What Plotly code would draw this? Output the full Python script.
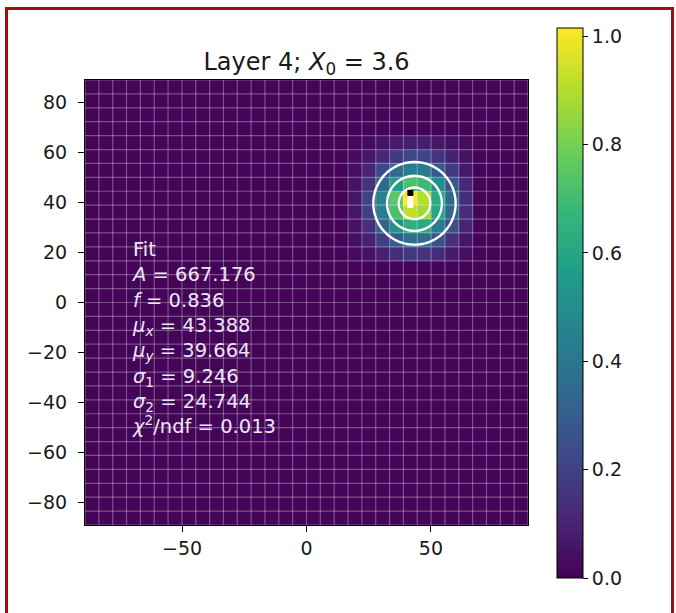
import numpy as np
import plotly.graph_objects as go

# ---------------- data ----------------
N_CELLS = 32
AXIS_EDGE = 89.0
BACKGROUND_LEVEL = 0.012

# normalised cell values around the shower core (columns 19..27, rows 19..27, bottom row first)
BLOCK_FIRST_COL = 19
BLOCK_FIRST_ROW = 19
core_rows = [
    [0.03, 0.05, 0.09, 0.13, 0.16, 0.15, 0.12, 0.07, 0.04],
    [0.04, 0.09, 0.19, 0.30, 0.37, 0.35, 0.26, 0.14, 0.06],
    [0.05, 0.14, 0.32, 0.52, 0.64, 0.61, 0.44, 0.25, 0.10],
    [0.06, 0.19, 0.43, 0.72, 0.92, 0.87, 0.60, 0.33, 0.13],
    [0.06, 0.20, 0.45, 0.75, 1.015, 0.90, 0.62, 0.34, 0.13],
    [0.05, 0.15, 0.35, 0.56, 0.72, 0.69, 0.50, 0.28, 0.11],
    [0.04, 0.10, 0.22, 0.35, 0.44, 0.42, 0.30, 0.17, 0.07],
    [0.03, 0.06, 0.11, 0.17, 0.22, 0.21, 0.15, 0.09, 0.05],
    [0.02, 0.03, 0.05, 0.07, 0.08, 0.08, 0.06, 0.04, 0.03],
]

# fit parameters (as printed)
FIT_A = 667.176
FIT_F = 0.836
FIT_MU_X = 43.388
FIT_MU_Y = 39.664
FIT_SIGMA1 = 9.246
FIT_SIGMA2 = 24.744
FIT_CHI2_NDF = 0.013
CONTOUR_LEVELS = [0.30, 0.56, 0.82]

LAYER = 4
X0 = 3.6

x_ticks = [-50, 0, 50]
y_ticks = [-80, -60, -40, -20, 0, 20, 40, 60, 80]
cbar_ticks = [0.0, 0.2, 0.4, 0.6, 0.8, 1.0]

# ---------------- build ----------------
edges = np.linspace(-AXIS_EDGE, AXIS_EDGE, N_CELLS + 1)
centers = 0.5 * (edges[:-1] + edges[1:])
z = np.full((N_CELLS, N_CELLS), BACKGROUND_LEVEL)
core = np.array(core_rows)
z[BLOCK_FIRST_ROW:BLOCK_FIRST_ROW + core.shape[0],
  BLOCK_FIRST_COL:BLOCK_FIRST_COL + core.shape[1]] = core

# figure pixel geometry
W, H = 676, 613
L, R, T, B = 85, 676 - 528, 80, 613 - 525
PW, PH = W - L - R, H - T - B


def px_x(p):
    return (p - L) / PW


def px_y(p):
    return (H - B - p) / PH


FONT = "DejaVu Sans"
TXT = "#1a1a1a"

fig = go.Figure()

fig.add_trace(go.Heatmap(
    x=centers, y=centers, z=z,
    colorscale="Viridis", zmin=0, zmax=float(z.max()),
    colorbar=dict(
        thickness=26, thicknessmode="pixels",
        len=550, lenmode="pixels",
        x=px_x(557), xanchor="left",
        y=px_y(28), yanchor="top",
        xpad=0, ypad=0,
        outlinecolor="black", outlinewidth=1,
        ticks="outside", ticklen=5, tickcolor="black", tickwidth=1,
        tickvals=cbar_ticks, tickformat=".1f",
        tickfont=dict(family=FONT, size=19, color=TXT),
    ),
    hoverinfo="skip",
))

# cell grid lines
gx, gy = [], []
for e in edges:
    gx += [e, e, None]
    gy += [-AXIS_EDGE, AXIS_EDGE, None]
    gx += [-AXIS_EDGE, AXIS_EDGE, None]
    gy += [e, e, None]
fig.add_trace(go.Scatter(x=gx, y=gy, mode="lines",
                         line=dict(color="rgba(255,255,255,0.3)", width=1.2),
                         hoverinfo="skip", showlegend=False))

# fit contours
fine = np.linspace(-AXIS_EDGE, AXIS_EDGE, 301)
FX, FY = np.meshgrid(fine, fine)
r2 = (FX - FIT_MU_X) ** 2 + (FY - FIT_MU_Y) ** 2
fit_norm = FIT_F * np.exp(-r2 / (2 * FIT_SIGMA1 ** 2)) + (1 - FIT_F) * np.exp(-r2 / (2 * FIT_SIGMA2 ** 2))
fig.add_trace(go.Contour(
    x=fine, y=fine, z=fit_norm,
    contours=dict(start=CONTOUR_LEVELS[0], end=CONTOUR_LEVELS[-1],
                  size=CONTOUR_LEVELS[1] - CONTOUR_LEVELS[0], coloring="none"),
    line=dict(color="white", width=2.4),
    showscale=False, hoverinfo="skip",
))

# peak-cell marker
iy, ix = np.unravel_index(np.argmax(z), z.shape)
cell = edges[1] - edges[0]
fig.add_trace(go.Scatter(x=[centers[ix]], y=[centers[iy] - 0.2 * cell], mode="markers",
                         marker=dict(symbol="line-ns", size=10, line=dict(color="white", width=6)),
                         hoverinfo="skip", showlegend=False))
fig.add_trace(go.Scatter(x=[centers[ix]], y=[centers[iy] + 0.38 * cell], mode="markers",
                         marker=dict(symbol="square", size=6, color="black", line=dict(width=0)),
                         hoverinfo="skip", showlegend=False))

# fit text
fit_text = "<br>".join([
    "Fit",
    f"<i>A</i> = {FIT_A:.3f}",
    f"<i>f</i> = {FIT_F:.3f}",
    f"<i>μ</i><sub><i>x</i></sub> = {FIT_MU_X:.3f}",
    f"<i>μ</i><sub><i>y</i></sub> = {FIT_MU_Y:.3f}",
    f"<i>σ</i><sub>1</sub> = {FIT_SIGMA1:.3f}",
    f"<i>σ</i><sub>2</sub> = {FIT_SIGMA2:.3f}",
    f"<i>χ</i><sup>2</sup>/ndf = {FIT_CHI2_NDF:.3f}",
])
fig.add_annotation(text=fit_text, xref="paper", yref="paper",
                   x=px_x(129), y=px_y(236),
                   xanchor="left", yanchor="top", align="left", showarrow=False,
                   font=dict(family=FONT, size=19.5, color="#efe6f5"))

# outer dark-red frame
fig.add_shape(type="rect", xref="paper", yref="paper",
              x0=px_x(6.5), x1=px_x(672.5), y0=px_y(640), y1=px_y(8.5),
              line=dict(color="#a30d0d", width=3), fillcolor="rgba(0,0,0,0)", layer="above")

axis_common = dict(
    showgrid=False, zeroline=False, showline=True, linecolor="black", linewidth=1, mirror=True,
    ticks="outside", ticklen=6, tickwidth=1, tickcolor="black",
    tickfont=dict(family=FONT, size=19, color=TXT),
    range=[-AXIS_EDGE, AXIS_EDGE],
)
fig.update_layout(
    width=W, height=H,
    margin=dict(l=L, r=R, t=T, b=B),
    paper_bgcolor="white", plot_bgcolor="white",
    showlegend=False,
    title=dict(text=f"Layer {LAYER}; <i>X</i><sub>0</sub> = {X0}",
               x=(L + PW / 2) / W, xanchor="center", y=1 - 62 / H, yanchor="middle",
               font=dict(family=FONT, size=24, color=TXT)),
    xaxis=dict(tickvals=x_ticks, **axis_common),
    yaxis=dict(tickvals=y_ticks, ticklabelstandoff=7, **axis_common),
)

fig.write_html("out.html",
               config={"displayModeBar": False},
               post_script="document.body.style.margin='0';document.body.style.overflow='hidden';")
